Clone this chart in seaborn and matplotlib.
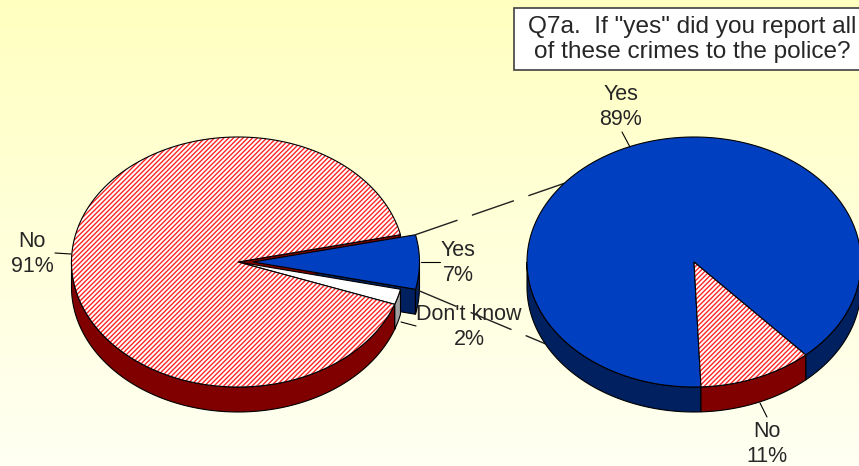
import numpy as np
import matplotlib
matplotlib.use("Agg")
import matplotlib.pyplot as plt
from matplotlib.patches import Polygon, Rectangle
import seaborn as sns

# Main question: share of respondents by answer
main_labels = ["Yes", "Don't know", "No"]
main_values = [7, 2, 91]

# Follow-up Q7a, asked of the "Yes" group
follow_labels = ["Yes", "No"]
follow_values = [89, 11]

title_text = 'Q7a.  If "yes" did you report all\nof these crimes to the police?'

sns.set_style("white")
plt.rcParams["font.family"] = ["Liberation Sans", "DejaVu Sans"]
plt.rcParams["hatch.linewidth"] = 1.0
HATCH_RED = "#FF2626"
plt.rcParams["hatch.color"] = HATCH_RED

W, H = 859, 466
fig = plt.figure(figsize=(W / 100, H / 100), dpi=100)
ax = fig.add_axes([0, 0, 1, 1])

# soft yellow background gradient
bg = sns.blend_palette(["#FFFFC0", "#FFFFF3"], as_cmap=True)
ax.imshow(np.linspace(0, 1, 256)[:, None], cmap=bg, extent=[0, W, H, 0],
          aspect="auto", zorder=0)
ax.set_xlim(0, W)
ax.set_ylim(H, 0)
ax.axis("off")

BLUE, BLUE_SIDE = "#0040C0", "#002060"
RED_SIDE = "#800000"
WHITE, GREY_SIDE = "#FFFFFF", "#A0A0A0"


def arc(cx, cy, rx, ry, a0, a1, dy=0.0):
    n = max(int(abs(a1 - a0)) + 2, 3)
    t = np.radians(np.linspace(a0, a1, n))
    return np.column_stack([cx + rx * np.cos(t), cy - ry * np.sin(t) + dy])


def front_spans(a_lo, a_hi):
    spans = []
    for k in range(-2, 3):
        lo, hi = -180 + 360 * k, 360 * k
        s, e = max(a_lo, lo), min(a_hi, hi)
        if e > s:
            spans.append((s, e))
    return spans


def pie3d(values, start, explode, tops, sides, hatched,
          cx, cy, rx, ry, depth, z=2):
    frac = np.asarray(values, float) / np.sum(values)
    ends = start - 360 * np.cumsum(frac)
    begins = np.concatenate([[start], ends[:-1]])
    geo = []
    for i, (a_hi, a_lo) in enumerate(zip(begins, ends)):
        mid = np.radians((a_hi + a_lo) / 2)
        ox = cx + explode[i] * rx * np.cos(mid)
        oy = cy - explode[i] * ry * np.sin(mid)
        geo.append((a_lo, a_hi, ox, oy))

    # radial cut faces that face the viewer
    for i, (a_lo, a_hi, ox, oy) in enumerate(geo):
        for a, front in ((a_lo, np.cos(np.radians(a_lo)) > 0),
                         (a_hi, np.cos(np.radians(a_hi)) < 0)):
            if not front:
                continue
            px = ox + rx * np.cos(np.radians(a))
            py = oy - ry * np.sin(np.radians(a))
            quad = [(ox, oy), (px, py), (px, py + depth), (ox, oy + depth)]
            ax.add_patch(Polygon(quad, closed=True, facecolor=sides[i],
                                 edgecolor="black", lw=0.8, zorder=z))
    # outer walls
    for i, (a_lo, a_hi, ox, oy) in enumerate(geo):
        for s, e in front_spans(a_lo, a_hi):
            top = arc(ox, oy, rx, ry, s, e)
            bot = arc(ox, oy, rx, ry, e, s, dy=depth)
            ax.add_patch(Polygon(np.vstack([top, bot]), closed=True,
                                 facecolor=sides[i], edgecolor="black",
                                 lw=0.8, zorder=z + 1))
    # top surfaces
    for i, (a_lo, a_hi, ox, oy) in enumerate(geo):
        pts = np.vstack([[ox, oy], arc(ox, oy, rx, ry, a_lo, a_hi)])
        if hatched[i]:
            ax.add_patch(Polygon(pts, closed=True, facecolor="white",
                                 edgecolor=HATCH_RED, hatch="///////",
                                 lw=0, zorder=z + 2))
            ax.add_patch(Polygon(pts, closed=True, fill=False,
                                 edgecolor="black", lw=0.8, zorder=z + 2.1))
        else:
            ax.add_patch(Polygon(pts, closed=True, facecolor=tops[i],
                                 edgecolor="black", lw=0.8, zorder=z + 2))
    return geo


RX, RY, DEPTH = 166.5, 125, 25

left = pie3d(main_values, 12.6, [0.09, 0.0, 0.0],
             [BLUE, WHITE, None], [BLUE_SIDE, GREY_SIDE, RED_SIDE],
             [False, False, True], 238, 262, RX, RY, DEPTH, z=2)
right = pie3d(follow_values, 272.4, [0.0, 0.0],
              [BLUE, None], [BLUE_SIDE, RED_SIDE],
              [False, True], 694, 262, 167, RY, DEPTH, z=6)

# connector lines from the exploded "Yes" slice to the follow-up pie
a_lo, a_hi, ox, oy = left[0]
corner_top = (ox + RX * np.cos(np.radians(a_hi)), oy - RY * np.sin(np.radians(a_hi)))
corner_bot = (ox + RX * np.cos(np.radians(a_lo)), oy - RY * np.sin(np.radians(a_lo)))
end_top = (694 + 167 * np.cos(np.radians(141)), 262 - RY * np.sin(np.radians(141)))
end_bot = (694 + 167 * np.cos(np.radians(207)), 262 - RY * np.sin(np.radians(207)) + DEPTH)
for p0, p1 in ((corner_top, end_top), (corner_bot, end_bot)):
    ax.plot([p0[0], p1[0]], [p0[1], p1[1]], color="#202020", lw=1.0,
            linestyle=(0, (32, 11)), zorder=5)

# leader lines
leaders = [((55, 253), (71, 254)),
           ((421, 262), (440, 262)),
           ((401, 322), (416, 326)),
           ((622, 132), (630, 147)),
           ((760, 403), (767, 417))]
for (x0, y0), (x1, y1) in leaders:
    ax.plot([x0, x1], [y0, y1], color="black", lw=0.8, zorder=11)

# slice labels
label_pos = {("main", "No"): (32, 254),
             ("main", "Yes"): (458, 263),
             ("main", "Don't know"): (469, 327),
             ("follow", "Yes"): (621, 107),
             ("follow", "No"): (767, 444)}
for lab, val in zip(main_labels, main_values):
    x, y = label_pos[("main", lab)]
    ax.text(x, y, f"{lab}\n{val}%", ha="center", va="center",
            fontsize=15.5, linespacing=1.2, zorder=12)
for lab, val in zip(follow_labels, follow_values):
    x, y = label_pos[("follow", lab)]
    ax.text(x, y, f"{lab}\n{val}%", ha="center", va="center",
            fontsize=15.5, linespacing=1.2, zorder=12)

# title box
ax.add_patch(Rectangle((513.5, 7.5), 360, 62.5, facecolor="white",
                       edgecolor="#404040", lw=1.2, zorder=12))
ax.text(692, 39.5, title_text, ha="center", va="center", fontsize=17.6,
        linespacing=1.12, zorder=13)

fig.savefig("out.png", dpi=100)
